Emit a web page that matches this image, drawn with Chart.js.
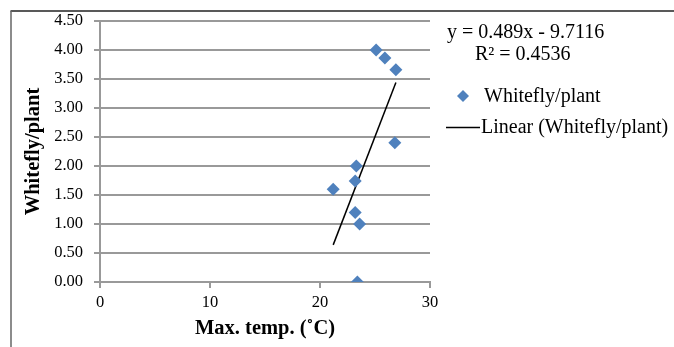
<!DOCTYPE html>
<html>
<head>
<meta charset="utf-8">
<script src="https://cdn.jsdelivr.net/npm/chart.js@4"></script>
<style>
html,body{margin:0;padding:0;background:#fff;}
#wrap{position:relative;width:674px;height:347px;}
</style>
</head>
<body>
<div id="wrap"><canvas id="c" width="674" height="347"></canvas></div>
<script>
// Data
const maxTemp = [23.4, 21.2, 23.2, 23.3, 23.2, 23.6, 26.8, 25.1, 25.9, 26.9];
const whiteflyPerPlant = [0.00, 1.60, 1.74, 2.00, 1.20, 1.00, 2.40, 4.00, 3.86, 3.66];
const trendX = [21.2, 26.9];
const trendY = [0.64, 3.44];
const yTicks = ['0.00','0.50','1.00','1.50','2.00','2.50','3.00','3.50','4.00','4.50'];
const xTicks = ['0','10','20','30'];
const seriesName = 'Whitefly/plant';
const trendName = 'Linear (Whitefly/plant)';
const equationText = 'y = 0.489x - 9.7116';
const r2Text = 'R\u00B2 = 0.4536';
const xTitle = 'Max. temp. (\u02DAC)';
const yTitle = 'Whitefly/plant';

const SERIF = '"Liberation Serif", "Times New Roman", serif';
const BLUE = '#4f81bd';
const GRID = '#999999';

const points = maxTemp.map((x, i) => ({x, y: whiteflyPerPlant[i]}));
const trend = trendX.map((x, i) => ({x, y: trendY[i]}));

const decor = {
  id: 'decor',
  beforeDraw(chart) {
    const ctx = chart.ctx;
    ctx.save();
    ctx.fillStyle = '#fff';
    ctx.fillRect(0, 0, chart.width, chart.height);
    ctx.lineWidth = 1.5;
    ctx.strokeStyle = '#222';
    ctx.beginPath();
    ctx.moveTo(10.5, 11);
    ctx.lineTo(674, 11);
    ctx.stroke();
    ctx.strokeStyle = '#666';
    ctx.beginPath();
    ctx.moveTo(11, 11);
    ctx.lineTo(11, 347);
    ctx.stroke();
    ctx.restore();
  },
  afterDraw(chart) {
    const ctx = chart.ctx;
    ctx.save();
    ctx.fillStyle = '#000';
    ctx.textBaseline = 'middle';
    ctx.textAlign = 'left';
    ctx.font = '20px ' + SERIF;
    ctx.fillText(equationText, 447, 33);
    ctx.fillText(r2Text, 475, 55);
    // legend item 1: diamond marker
    const cx = 463, cy = 96, r = 6;
    ctx.fillStyle = BLUE;
    ctx.beginPath();
    ctx.moveTo(cx, cy - r);
    ctx.lineTo(cx + r, cy);
    ctx.lineTo(cx, cy + r);
    ctx.lineTo(cx - r, cy);
    ctx.closePath();
    ctx.fill();
    ctx.fillStyle = '#000';
    ctx.fillText(seriesName, 484, 97);
    // legend item 2: line
    ctx.strokeStyle = '#000';
    ctx.lineWidth = 1.5;
    ctx.beginPath();
    ctx.moveTo(446, 127.5);
    ctx.lineTo(480, 127.5);
    ctx.stroke();
    ctx.fillText(trendName, 481, 128);
    ctx.restore();
  }
};

new Chart(document.getElementById('c'), {
  type: 'scatter',
  data: {
    datasets: [
      {
        label: seriesName,
        data: points,
        pointStyle: 'rectRot',
        pointRadius: 6.5,
        pointHoverRadius: 6.5,
        backgroundColor: BLUE,
        borderColor: BLUE,
        borderWidth: 0,
        order: 1
      },
      {
        label: trendName,
        data: trend,
        showLine: true,
        pointRadius: 0,
        borderColor: '#000',
        borderWidth: 1.5,
        fill: false,
        order: 2
      }
    ]
  },
  options: {
    responsive: false,
    animation: false,
    devicePixelRatio: 1,
    layout: { padding: { left: 0, top: 21, right: 244, bottom: 0 } },
    plugins: {
      legend: { display: false },
      tooltip: { enabled: false }
    },
    scales: {
      x: {
        type: 'linear',
        min: 0, max: 30,
        afterFit(s) { s.height = 65; },
        afterBuildTicks(s) { s.ticks = xTicks.map(v => ({value: Number(v)})); },
        ticks: {
          callback: (v) => String(v),
          color: '#000',
          font: { family: SERIF, size: 16.5 },
          padding: 5
        },
        grid: {
          drawOnChartArea: false,
          drawTicks: true,
          tickLength: 6,
          tickColor: GRID,
          lineWidth: 2
        },
        border: { color: GRID, width: 2 },
        title: {
          display: true,
          text: xTitle,
          color: '#000',
          font: { family: SERIF, size: 20.5, weight: 'bold' },
          padding: { top: 0, bottom: 6 }
        }
      },
      y: {
        type: 'linear',
        min: 0, max: 4.5,
        afterFit(s) { s.width = 100; },
        afterBuildTicks(s) { s.ticks = yTicks.map(v => ({value: Number(v)})); },
        ticks: {
          callback: (v) => Number(v).toFixed(2),
          color: '#000',
          font: { family: SERIF, size: 16.5 },
          padding: 11
        },
        grid: {
          color: GRID,
          lineWidth: 2,
          drawTicks: true,
          tickLength: 6,
          tickColor: GRID
        },
        border: { color: GRID, width: 2 },
        title: {
          display: true,
          text: yTitle,
          color: '#000',
          font: { family: SERIF, size: 20.5, weight: 'bold' },
          padding: { top: 21, bottom: 0 }
        }
      }
    }
  },
  plugins: [decor]
});
</script>
</body>
</html>
